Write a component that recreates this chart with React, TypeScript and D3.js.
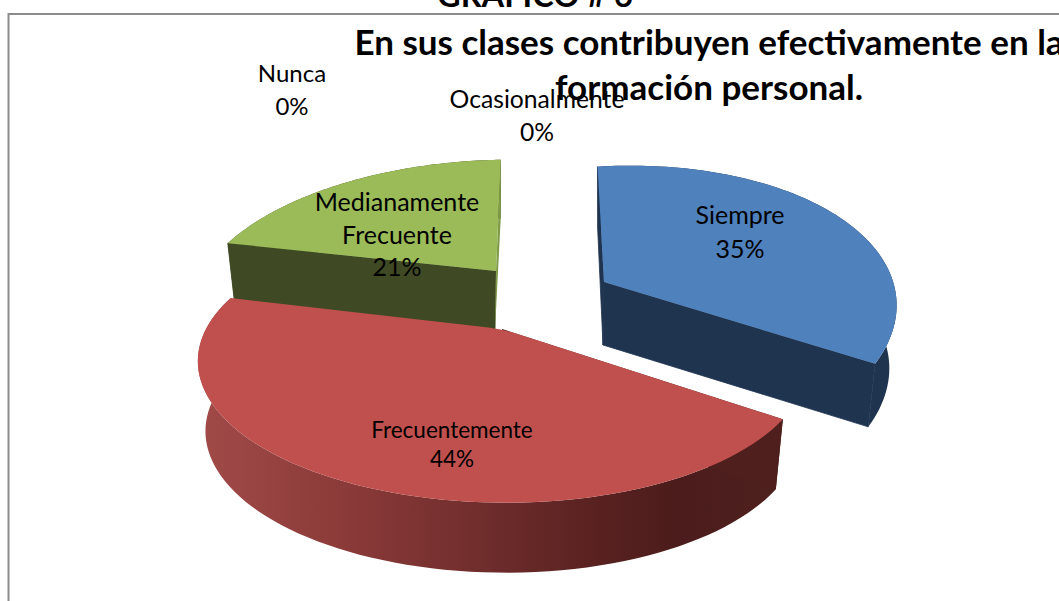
import React from "react";
import * as d3 from "d3";

// ---- data ----
const categories = ["Siempre", "Frecuentemente", "Medianamente Frecuente", "Nunca", "Ocasionalmente"];
const percentages = [35, 44, 21, 0, 0];
const titleLines = ["En sus clases contribuyen efectivamente en la", "formación personal."];
const captionText = "GRAFICO # 6";

// ---- layout ----
const W = 1059, H = 601;
const FONT = "Lato, 'Open Sans', sans-serif";

type Geo = { cx: number; cy: number; a: number; b: number; s: number; t: number; d: number; top: string; wall: string; near: string };
const K = 0.24, XF = 0.975;
const geometry: Geo[] = [
  { cx: 604, cy: 282, a: 282, b: 143, s: -17, t: -8, d: 63, top: "#4f81bd", wall: "#1f344f", near: "#1f344f" },
  { cx: 502, cy: 329, a: 296, b: 132, s: 0, t: -3, d: 70, top: "#c0504d", wall: "url(#redWall)", near: "#4e1f1d" },
  { cx: 496, cy: 271, a: 295, b: 138, s: -5, t: 6, d: 59, top: "#9bbb59", wall: "#3f4a24", near: "#7f9b48" },
];
const labelPlacement: { x: number; lines: string[]; y: number[]; size: number }[] = [
  { x: 740, lines: ["Siempre", "35%"], y: [224, 258], size: 25 },
  { x: 452, lines: ["Frecuentemente", "44%"], y: [438, 467], size: 22.5 },
  { x: 397, lines: ["Medianamente", "Frecuente", "21%"], y: [211, 244, 276], size: 25 },
  { x: 292, lines: ["Nunca", "0%"], y: [82, 115], size: 24 },
  { x: 537, lines: ["Ocasionalmente", "0%"], y: [108, 141], size: 24.7 },
];

function project(g: Geo, theta: number, bottom = false): [number, number] {
  const X = Math.sin(theta), Y = Math.cos(theta);
  const D = 1 + K * Y;
  const px = (g.a * X + g.t * Y) / D;
  const py = (-g.b * Y + g.s * X) / D;
  return bottom ? [g.cx + px * XF, g.cy + py + g.d] : [g.cx + px, g.cy + py];
}

function arcPts(g: Geo, a0: number, a1: number, bottom = false) {
  const n = 80;
  return d3.range(n + 1).map((i) => project(g, a0 + ((a1 - a0) * i) / n, bottom));
}
const line = d3.line();

export default function App() {
  const arcs = d3.pie<number>().sort(null).startAngle(0).endAngle(2 * Math.PI)(percentages);
  // painting order: back slices first
  const order = [0, 2, 1];

  return (
    <svg width={W} height={H} style={{ position: "absolute", left: 0, top: 0, display: "block", background: "#fff" }}>
      <defs>
        <linearGradient id="redWall" gradientUnits="userSpaceOnUse" x1={205} x2={780} y1={0} y2={0}>
          <stop offset="0" stopColor="#a04a48" />
          <stop offset="0.25" stopColor="#8a3a38" />
          <stop offset="0.45" stopColor="#732f2e" />
          <stop offset="0.65" stopColor="#5c2322" />
          <stop offset="0.82" stopColor="#4b1c1b" />
          <stop offset="1" stopColor="#4e201e" />
        </linearGradient>
      </defs>
      <rect x={8.5} y={14} width={W + 40} height={H + 40} fill="#fff" stroke="#8c8c8c" strokeWidth={2} />

      {order.map((i) => {
        const g = geometry[i];
        const { startAngle: a0, endAngle: a1 } = arcs[i];
        const apex: [number, number] = [g.cx, g.cy];
        const apexB: [number, number] = [g.cx - 1, g.cy + g.d];
        const outerTop = arcPts(g, a0, a1);
        const outerBot = arcPts(g, a0, a1, true);
        const wall = [...outerTop, ...outerBot.slice().reverse()];
        const startWall = [outerTop[0], apex, apexB, outerBot[0]];
        const endWall = [outerTop[outerTop.length - 1], apex, apexB, outerBot[outerBot.length - 1]];
        const solid = i === 1 ? g.near : g.wall;
        let topPath = line(outerTop) as string;
        if (i === 1) {
          // the red slice has a softened apex
          const last = outerTop[outerTop.length - 1], first = outerTop[0];
          const f = 0.05;
          const p1: [number, number] = [apex[0] + (last[0] - apex[0]) * f, apex[1] + (last[1] - apex[1]) * f];
          const p2: [number, number] = [apex[0] + (first[0] - apex[0]) * f, apex[1] + (first[1] - apex[1]) * f];
          topPath += `L${p1[0]},${p1[1]}Q${apex[0]},${apex[1]} ${p2[0]},${p2[1]}Z`;
        } else {
          topPath += `L${apex[0]},${apex[1]}Z`;
        }
        return (
          <g key={categories[i]}>
            <path d={(line(wall) as string) + "Z"} fill={g.wall} />
            <path d={(line(startWall) as string) + "Z"} fill={solid} stroke={i === 1 ? "none" : solid} strokeWidth={0.8} />
            {i === 2 ? (
              <path d={(line(endWall) as string) + "Z"} fill={g.near} />
            ) : i === 0 ? (
              <path d={(line(endWall) as string) + "Z"} fill={solid} stroke={solid} strokeWidth={0.8} />
            ) : null}
            <path d={topPath} fill={g.top} />
          </g>
        );
      })}

      <g fontFamily={FONT} fill="#000" textAnchor="middle">
        <text x={535} y={7} fontSize={32.5} fontWeight={700}>{captionText}</text>
        <text x={709} y={55} fontSize={35} fontWeight={700}>{titleLines[0]}</text>
        <text x={709} y={100} fontSize={35} fontWeight={700}>{titleLines[1]}</text>
      </g>

      <g fontFamily={FONT} fill="#000" textAnchor="middle">
        {labelPlacement.map((l, i) =>
          l.lines.map((t, j) => (
            <text key={categories[i] + j} x={l.x} y={l.y[j]} fontSize={l.size}>{t}</text>
          ))
        )}
      </g>
    </svg>
  );
}
